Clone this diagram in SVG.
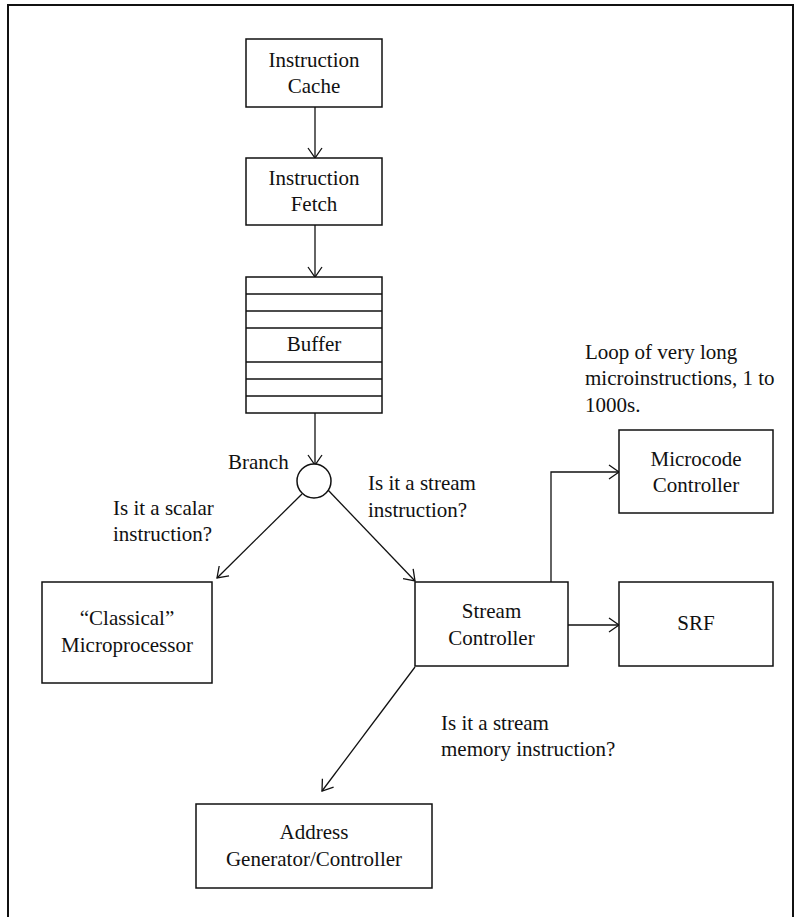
<svg xmlns="http://www.w3.org/2000/svg" width="794" height="917" viewBox="0 0 794 917" font-family="Liberation Serif, Times New Roman, serif" font-size="21">
  <style>
    .box { fill: #fff; stroke: #111; stroke-width: 1.5; }
    .rule { stroke: #111; stroke-width: 1.3; fill: none; }
    .wire { stroke: #111; stroke-width: 1.3; fill: none; marker-end: url(#open); }
    text { fill: #111; }
    .c { text-anchor: middle; }
  </style>
  <defs>
    <marker id="open" markerWidth="14" markerHeight="16" refX="12" refY="8" orient="auto" markerUnits="userSpaceOnUse">
      <path d="M2,1 L12,8 L2,15" fill="none" stroke="#111" stroke-width="1.3"/>
    </marker>
  </defs>

  <rect width="794" height="917" fill="#fff"/>
  <!-- page frame -->
  <path d="M8,917 V5 H793 V917" fill="none" stroke="#111" stroke-width="2"/>

  <g id="connectors">
    <line class="wire" x1="315" y1="107" x2="315" y2="158"/>
    <line class="wire" x1="315" y1="225" x2="315" y2="277"/>
    <line class="wire" x1="315" y1="413" x2="315" y2="465"/>
    <line class="wire" x1="302" y1="494" x2="217" y2="578"/>
    <line class="wire" x1="328" y1="490" x2="415" y2="581"/>
    <polyline class="wire" points="551,582 551,472 619,472"/>
    <line class="wire" x1="568" y1="625" x2="619" y2="625"/>
    <line class="wire" x1="415" y1="667" x2="322" y2="791"/>
  </g>

  <g id="instruction-cache">
    <rect class="box" x="246" y="39" width="136" height="68"/>
    <text class="c" x="314" y="67">Instruction</text>
    <text class="c" x="314" y="93">Cache</text>
  </g>

  <g id="instruction-fetch">
    <rect class="box" x="246" y="158" width="136" height="67"/>
    <text class="c" x="314" y="185">Instruction</text>
    <text class="c" x="314" y="211">Fetch</text>
  </g>

  <g id="buffer">
    <rect class="box" x="246" y="277" width="136" height="136"/>
    <line class="rule" x1="246" y1="294" x2="382" y2="294"/>
    <line class="rule" x1="246" y1="311" x2="382" y2="311"/>
    <line class="rule" x1="246" y1="328" x2="382" y2="328"/>
    <line class="rule" x1="246" y1="362" x2="382" y2="362"/>
    <line class="rule" x1="246" y1="379" x2="382" y2="379"/>
    <line class="rule" x1="246" y1="396" x2="382" y2="396"/>
    <text class="c" x="314" y="351">Buffer</text>
  </g>

  <g id="branch">
    <circle cx="314" cy="481" r="17" fill="#fff" stroke="#111" stroke-width="1.5"/>
    <text x="228" y="469">Branch</text>
  </g>

  <g id="labels">
    <text x="113" y="515">Is it a scalar</text>
    <text x="113" y="541">instruction?</text>
    <text x="368" y="490">Is it a stream</text>
    <text x="368" y="517">instruction?</text>
    <text x="585" y="359">Loop of very long</text>
    <text x="585" y="385">microinstructions, 1 to</text>
    <text x="585" y="412">1000s.</text>
    <text x="441" y="730">Is it a stream</text>
    <text x="441" y="756">memory instruction?</text>
  </g>

  <g id="classical-microprocessor">
    <rect class="box" x="42" y="582" width="170" height="101"/>
    <text class="c" x="127" y="625">“Classical”</text>
    <text class="c" x="127" y="652">Microprocessor</text>
  </g>

  <g id="stream-controller">
    <rect class="box" x="415" y="582" width="153" height="84"/>
    <text class="c" x="491.5" y="618">Stream</text>
    <text class="c" x="491.5" y="645">Controller</text>
  </g>

  <g id="microcode-controller">
    <rect class="box" x="619" y="430" width="154" height="83"/>
    <text class="c" x="696" y="466">Microcode</text>
    <text class="c" x="696" y="492">Controller</text>
  </g>

  <g id="srf">
    <rect class="box" x="619" y="582" width="154" height="84"/>
    <text class="c" x="696" y="630">SRF</text>
  </g>

  <g id="address-generator">
    <rect class="box" x="196" y="804" width="236" height="84"/>
    <text class="c" x="314" y="839">Address</text>
    <text class="c" x="314" y="866">Generator/Controller</text>
  </g>
</svg>
